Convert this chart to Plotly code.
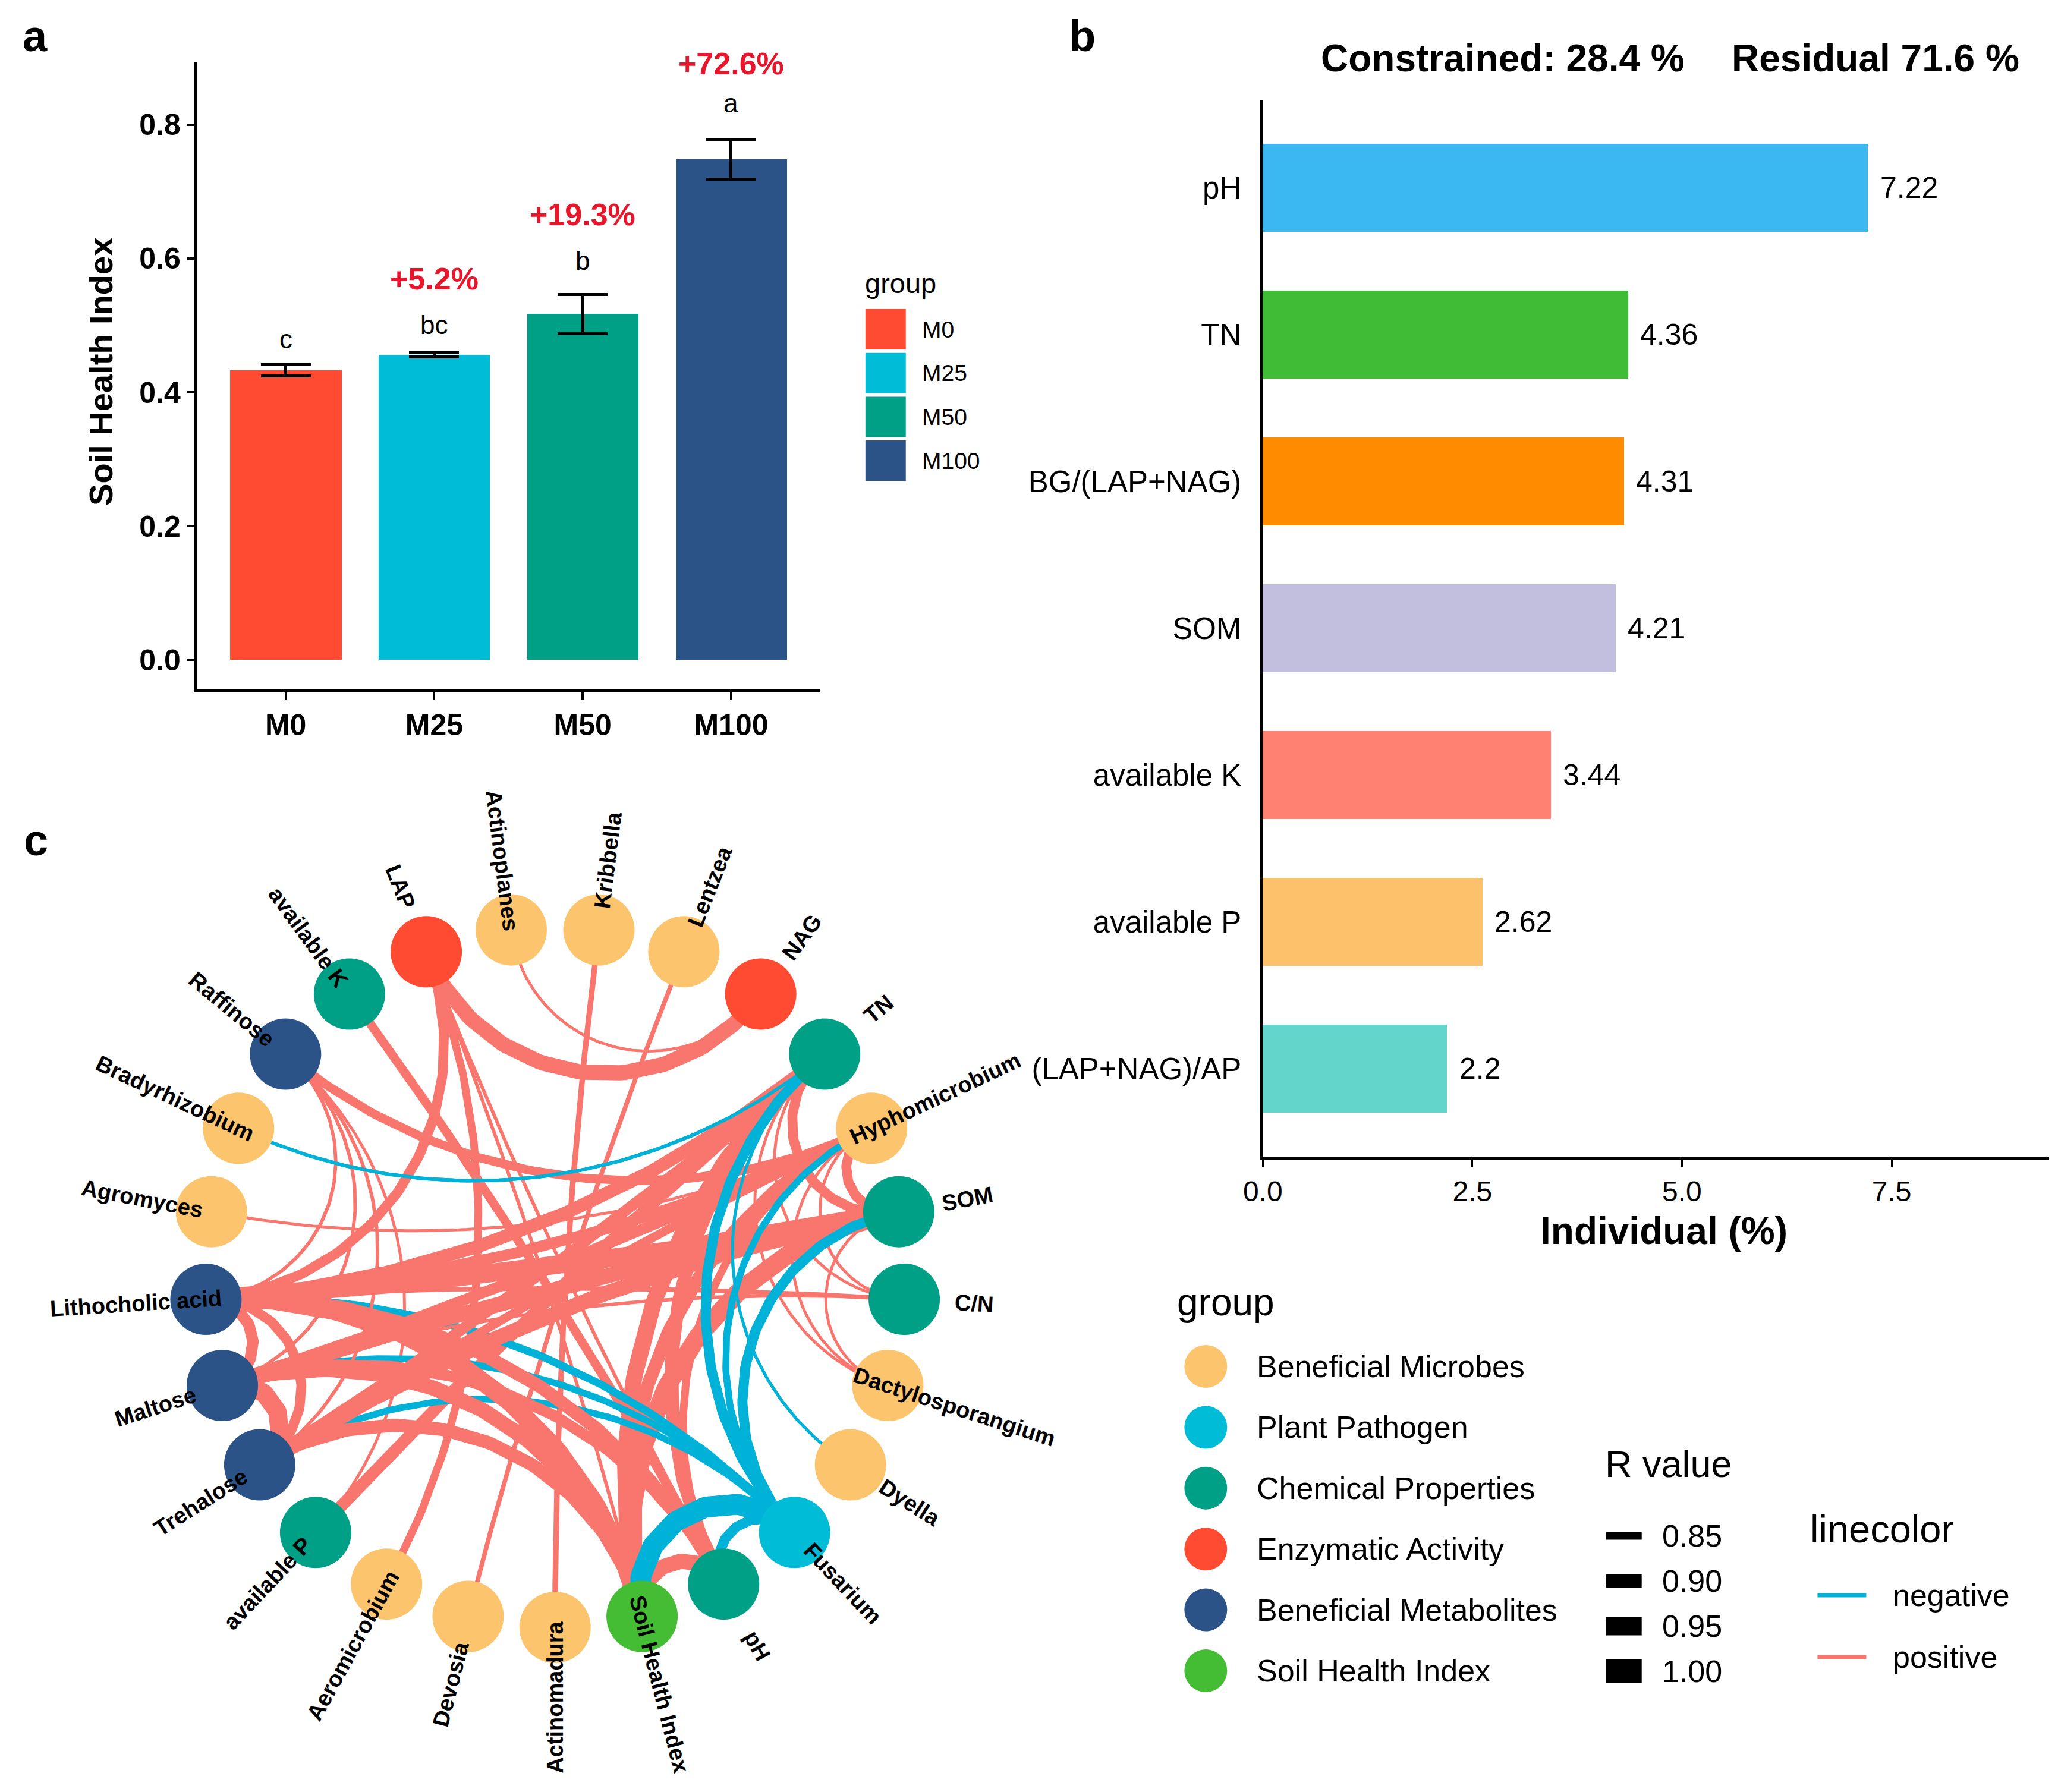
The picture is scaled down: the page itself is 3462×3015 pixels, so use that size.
import numpy as np
import plotly.graph_objects as go

W, H = 3462, 3015
FONT = "Liberation Sans, Arial, Helvetica, sans-serif"

# ---------------- panel a data ----------------
a_groups = ["M0", "M25", "M50", "M100"]
a_mean = [0.433, 0.456, 0.517, 0.748]
a_err = [0.008, 0.003, 0.029, 0.029]
a_letters = ["c", "bc", "b", "a"]
a_letter_y = [0.480, 0.501, 0.597, 0.832]
a_pct = ["", "+5.2%", "+19.3%", "+72.6%"]
a_pct_y = [0.0, 0.570, 0.666, 0.891]
a_colors = ["#FF4B31", "#00BCD6", "#00A087", "#2C5388"]
a_yticks = [0.0, 0.2, 0.4, 0.6, 0.8]

# ---------------- panel b data ----------------
b_vars = ["pH", "TN", "BG/(LAP+NAG)", "SOM", "available K", "available P", "(LAP+NAG)/AP"]
b_vals = [7.22, 4.36, 4.31, 4.21, 3.44, 2.62, 2.2]
b_colors = ["#3BB8EF", "#41BC37", "#FF8C00", "#C2BEDD", "#FF8172", "#FDC06B", "#64D5CB"]
b_xticks = [0.0, 2.5, 5.0, 7.5]
b_title_left = "Constrained: 28.4 %"
b_title_right = "Residual 71.6 %"

# ---------------- panel c data ----------------
node_names = ["Kribbella", "Lentzea", "NAG", "TN", "Hyphomicrobium", "SOM", "C/N",
              "Dactylosporangium", "Dyella", "Fusarium", "pH", "Soil Health Index",
              "Actinomadura", "Devosia", "Aeromicrobium", "available P", "Trehalose",
              "Maltose", "Lithocholic acid", "Agromyces", "Bradyrhizobium", "Raffinose",
              "available K", "LAP", "Actinoplanes"]
group_names = ["Beneficial Microbes", "Plant Pathogen", "Chemical Properties",
               "Enzymatic Activity", "Beneficial Metabolites", "Soil Health Index"]
group_colors = ["#FDC46E", "#00BCD6", "#00A087", "#FF4B31", "#2C5388", "#44BC34"]
node_groups = ["Beneficial Microbes", "Beneficial Microbes", "Enzymatic Activity",
               "Chemical Properties", "Beneficial Microbes", "Chemical Properties",
               "Chemical Properties", "Beneficial Microbes", "Beneficial Microbes",
               "Plant Pathogen", "Chemical Properties", "Soil Health Index",
               "Beneficial Microbes", "Beneficial Microbes", "Beneficial Microbes",
               "Chemical Properties", "Beneficial Metabolites", "Beneficial Metabolites",
               "Beneficial Metabolites", "Beneficial Microbes", "Beneficial Microbes",
               "Beneficial Metabolites", "Chemical Properties", "Enzymatic Activity",
               "Beneficial Microbes"]

edges_positive = [
    ("LAP", "NAG", 0.92), ("Actinoplanes", "NAG", 0.805),
    ("Kribbella", "Actinomadura", 0.83), ("Lentzea", "Devosia", 0.82),
    ("LAP", "Lithocholic acid", 0.87), ("LAP", "Aeromicrobium", 0.85),
    ("LAP", "Soil Health Index", 0.81), ("LAP", "pH", 0.81),
    ("available K", "pH", 0.86), ("available P", "TN", 0.89),
    ("Raffinose", "Hyphomicrobium", 0.86), ("Raffinose", "Lithocholic acid", 0.81),
    ("Raffinose", "Maltose", 0.81), ("Raffinose", "Trehalose", 0.81),
    ("Raffinose", "available P", 0.805), ("Agromyces", "Hyphomicrobium", 0.805),
    ("Lithocholic acid", "SOM", 0.95), ("Lithocholic acid", "TN", 0.90),
    ("Lithocholic acid", "Hyphomicrobium", 0.88), ("Lithocholic acid", "Soil Health Index", 0.95),
    ("Lithocholic acid", "pH", 0.90), ("Lithocholic acid", "Maltose", 0.885),
    ("Lithocholic acid", "Trehalose", 0.87), ("Lithocholic acid", "C/N", 0.82),
    ("Maltose", "Trehalose", 0.95), ("Maltose", "SOM", 0.92),
    ("Maltose", "Hyphomicrobium", 0.88), ("Maltose", "Soil Health Index", 0.92),
    ("Maltose", "pH", 0.88), ("Maltose", "C/N", 0.81),
    ("Trehalose", "SOM", 0.92), ("Trehalose", "TN", 0.88),
    ("Trehalose", "Hyphomicrobium", 0.86), ("Trehalose", "Soil Health Index", 0.90),
    ("SOM", "TN", 0.87), ("SOM", "Hyphomicrobium", 0.87),
    ("SOM", "Soil Health Index", 0.95), ("SOM", "Dactylosporangium", 0.805),
    ("TN", "Soil Health Index", 0.93), ("TN", "pH", 0.90),
    ("Hyphomicrobium", "Soil Health Index", 0.90), ("Hyphomicrobium", "pH", 0.85),
    ("Hyphomicrobium", "Dactylosporangium", 0.805), ("C/N", "Hyphomicrobium", 0.805),
    ("C/N", "TN", 0.805), ("Dactylosporangium", "TN", 0.805),
    ("Soil Health Index", "pH", 0.92),
]
edges_negative = [
    ("Fusarium", "Soil Health Index", 0.97), ("Fusarium", "pH", 0.87),
    ("Fusarium", "TN", 0.87), ("Fusarium", "Hyphomicrobium", 0.84),
    ("Fusarium", "SOM", 0.87), ("Fusarium", "Lithocholic acid", 0.85),
    ("Fusarium", "Maltose", 0.84), ("Fusarium", "Trehalose", 0.84),
    ("Dyella", "TN", 0.805), ("Bradyrhizobium", "TN", 0.81),
]
r_legend = [0.85, 0.90, 0.95, 1.00]
POS_COLOR = "#F8766D"
NEG_COLOR = "#00B2D8"

# ---------------- geometry / style ----------------
# page-placement correction (rendered page is offset/scaled slightly)
OX, SX, OY = 31.0, 0.9913, 8.0


def dx(x):  # reference pixel x -> paper fraction
    return (x - OX) / SX / W


def dy(y):  # reference pixel y -> paper fraction (from bottom)
    return 1 - (y - OY) / H


CX, CY, RAD = 924.5, 2149.0, 589.0     # circle layout (reference pixels)
RLAB = 707.0
NODE_SIZE = 120


def edge_width(r):
    return 4 + (r - 0.8) * 180


def node_unit(k):
    ang = np.radians(7.2 + 14.4 * k)
    return np.array([np.sin(ang), -np.cos(ang)])


def arc_points(k1, k2, n=80):
    u1, u2 = node_unit(k1), node_unit(k2)
    cos_t = np.clip(np.dot(u1, u2), -1, 1)
    th = np.arccos(cos_t)
    if th > np.radians(179.0):
        t = np.linspace(0, 1, n)
        pts = np.outer(1 - t, u1) + np.outer(t, u2)
    else:
        m = (u1 + u2) / np.linalg.norm(u1 + u2)
        O = m / np.cos(th / 2)
        r = np.tan(th / 2)
        p1 = np.arctan2(u1[1] - O[1], u1[0] - O[0])
        p2 = np.arctan2(u2[1] - O[1], u2[0] - O[0])
        d = (p2 - p1 + np.pi) % (2 * np.pi) - np.pi
        t = np.linspace(0, 1, n)
        ph = p1 + d * t
        pts = np.column_stack([O[0] + r * np.cos(ph), O[1] + r * np.sin(ph)])
    return CX + RAD * pts[:, 0], CY + RAD * pts[:, 1]


fig = go.Figure()

# ---------------- panel a ----------------
fig.add_trace(go.Bar(
    x=list(range(len(a_groups))), y=a_mean, width=0.75,
    marker=dict(color=a_colors, line=dict(width=0)),
    error_y=dict(type="data", array=a_err, thickness=5, width=42, color="black"),
    xaxis="x", yaxis="y", showlegend=False, hoverinfo="skip"))

annotations = []
for i, (lt, ly) in enumerate(zip(a_letters, a_letter_y)):
    annotations.append(dict(x=i, y=ly, xref="x", yref="y", text=lt, showarrow=False,
                            font=dict(family=FONT, size=44, color="black"),
                            xanchor="center", yanchor="middle"))
for i, (pt, py) in enumerate(zip(a_pct, a_pct_y)):
    if pt:
        annotations.append(dict(x=i, y=py, xref="x", yref="y", text="<b>%s</b>" % pt,
                                showarrow=False,
                                font=dict(family=FONT, size=52, color="#E8152B"),
                                xanchor="center", yanchor="middle"))

# ---------------- panel b ----------------
b_pos = list(range(len(b_vars), 0, -1))
fig.add_trace(go.Bar(
    x=b_vals, y=b_pos, orientation="h", width=0.6,
    marker=dict(color=b_colors, line=dict(width=0)),
    xaxis="x2", yaxis="y2", showlegend=False, hoverinfo="skip"))
for v, p in zip(b_vals, b_pos):
    annotations.append(dict(x=v, y=p, xref="x2", yref="y2", text=str(v), showarrow=False,
                            xanchor="left", yanchor="middle", xshift=18,
                            font=dict(family=FONT, size=50, color="black")))

# ---------------- panel c : edges ----------------
idx = {n: i for i, n in enumerate(node_names)}
left_hubs = {"Lithocholic acid", "Maltose", "Trehalose"}
pos_sorted = sorted(edges_positive, key=lambda e: e[2])
layers = [
    ([e for e in pos_sorted if not ({e[0], e[1]} & left_hubs)], POS_COLOR),
    (sorted(edges_negative, key=lambda e: e[2]), NEG_COLOR),
    ([e for e in pos_sorted if ({e[0], e[1]} & left_hubs)], POS_COLOR),
]
for edges, col in layers:
    for a, b, r in edges:
        ex, ey = arc_points(idx[a], idx[b])
        fig.add_trace(go.Scatter(x=ex, y=ey, mode="lines",
                                 line=dict(color=col, width=edge_width(r)),
                                 xaxis="x3", yaxis="y3", showlegend=False,
                                 hoverinfo="skip"))
# Fusarium fan drawn on top near the pathogen node
for a, b, r in sorted(edges_negative, key=lambda e: e[2]):
    if {a, b} & left_hubs:
        continue
    ex, ey = arc_points(idx[a], idx[b])
    fig.add_trace(go.Scatter(x=ex, y=ey, mode="lines",
                             line=dict(color=NEG_COLOR, width=edge_width(r)),
                             xaxis="x3", yaxis="y3", showlegend=False, hoverinfo="skip"))

# nodes
gcol = dict(zip(group_names, group_colors))
nx = [CX + RAD * node_unit(k)[0] for k in range(len(node_names))]
ny = [CY + RAD * node_unit(k)[1] for k in range(len(node_names))]
fig.add_trace(go.Scatter(x=nx, y=ny, mode="markers",
                         marker=dict(size=NODE_SIZE, color=[gcol[g] for g in node_groups],
                                     line=dict(width=0), opacity=1),
                         xaxis="x3", yaxis="y3", showlegend=False, hoverinfo="skip"))

# node labels
for k, name in enumerate(node_names):
    ang = 7.2 + 14.4 * k
    u = node_unit(k)
    rot = ang - 90 if ang < 179 else ang - 270
    annotations.append(dict(x=CX + RLAB * u[0], y=CY + RLAB * u[1], xref="x3", yref="y3",
                            text="<b>%s</b>" % name, showarrow=False, textangle=rot,
                            xanchor="center", yanchor="middle",
                            font=dict(family=FONT, size=38, color="black")))

# ---------------- manual legends & labels (overlay pixel axis) ----------------
shapes = []


def txt(x, y, s, size, bold=False, xanchor="left", color="black", angle=0):
    annotations.append(dict(x=x, y=y, xref="x3", yref="y3",
                            text=("<b>%s</b>" % s) if bold else s, showarrow=False,
                            xanchor=xanchor, yanchor="middle", textangle=angle,
                            font=dict(family=FONT, size=size, color=color)))


# panel letters
txt(49, 60, "a", 74, bold=True, xanchor="center")
txt(1812, 60, "b", 74, bold=True, xanchor="center")
txt(51, 1413, "c", 74, bold=True, xanchor="center")

# panel a axis title + legend
txt(159, 625, "Soil Health Index", 56, bold=True, xanchor="center", angle=-90)
txt(1444, 476, "group", 47)
for i, (g, c) in enumerate(zip(a_groups, a_colors)):
    top = 520 + 73.7 * i
    shapes.append(dict(type="rect", xref="x3", yref="y3", x0=1447, x1=1515,
                       y0=top, y1=top + 68, fillcolor=c, line=dict(width=0)))
    txt(1540, top + 34, g, 39)

# panel b title + axis title
txt(2520, 98, b_title_left, 64, bold=True, xanchor="center")
txt(3148, 98, b_title_right, 64, bold=True, xanchor="center")
txt(2791, 2071, "Individual (%)", 64, bold=True, xanchor="center")

# group legend (panel c)
txt(1970, 2191, "group", 64)
gy0 = 2299
fig.add_trace(go.Scatter(x=[2020] * len(group_names),
                         y=[gy0 + 102.4 * i for i in range(len(group_names))],
                         mode="markers", marker=dict(size=72, color=group_colors, line=dict(width=0)),
                         xaxis="x3", yaxis="y3", showlegend=False, hoverinfo="skip"))
for i, g in enumerate(group_names):
    txt(2104, gy0 + 102.4 * i, g, 52)

# R value legend
txt(2690, 2463, "R value", 63)
for i, r in enumerate(r_legend):
    cy = 2584 + 76 * i
    w = edge_width(r)
    shapes.append(dict(type="rect", xref="x3", yref="y3", x0=2694, x1=2754,
                       y0=cy - w / 2, y1=cy + w / 2, fillcolor="black", line=dict(width=0)))
    txt(2786, cy, "%.2f" % r, 52)

# linecolor legend
txt(3036, 2572, "linecolor", 65)
for i, (lab, col) in enumerate((("negative", NEG_COLOR), ("positive", POS_COLOR))):
    yy = 2684 + 104 * i
    shapes.append(dict(type="line", xref="x3", yref="y3", x0=3050, x1=3132, y0=yy, y1=yy,
                       line=dict(color=col, width=7)))
    txt(3175, yy, lab, 52)

# ---------------- layout ----------------
fig.update_layout(
    width=W, height=H, margin=dict(l=0, r=0, t=0, b=0),
    paper_bgcolor="white", plot_bgcolor="rgba(0,0,0,0)",
    font=dict(family=FONT, color="black"),
    bargap=0, showlegend=False,
    xaxis=dict(domain=[dx(321), dx(1371)], anchor="y", range=[-0.6, 3.6],
               tickvals=list(range(len(a_groups))), ticktext=a_groups,
               showline=True, linecolor="black", linewidth=5, ticks="outside",
               ticklen=12, tickwidth=4, tickcolor="black", showgrid=False, zeroline=False,
               tickfont=dict(family=FONT, size=50, color="black", weight="bold")),
    yaxis=dict(domain=[dy(1160), dy(104)], anchor="x", range=[-0.044, 0.894],
               tickvals=a_yticks, ticktext=["%.1f" % t for t in a_yticks],
               showline=True, linecolor="black", linewidth=5, ticks="outside",
               ticklen=12, tickwidth=4, tickcolor="black", showgrid=False, zeroline=False,
               tickfont=dict(family=FONT, size=50, color="black", weight="bold")),
    xaxis2=dict(domain=[dx(2116), min(1.0, dx(3440))], anchor="y2", range=[0, 9.38],
                tickvals=b_xticks, ticktext=["%.1f" % t for t in b_xticks],
                showline=True, linecolor="black", linewidth=5, ticks="outside",
                ticklen=12, tickwidth=3, tickcolor="black", showgrid=False, zeroline=False,
                tickfont=dict(family=FONT, size=48, color="black")),
    yaxis2=dict(domain=[dy(1946), dy(168)], anchor="x2", range=[0.4, 7.6],
                tickvals=b_pos, ticktext=b_vars, ticks="", ticklabelstandoff=22,
                showline=True, linecolor="black", linewidth=3.5, showgrid=False,
                zeroline=False, tickfont=dict(family=FONT, size=51, color="black")),
    xaxis3=dict(domain=[0, 1], anchor="y3", range=[OX, OX + SX * W], visible=False,
                fixedrange=True),
    yaxis3=dict(domain=[0, 1], anchor="x3", range=[H + OY, OY], visible=False,
                fixedrange=True),
    annotations=annotations, shapes=shapes,
)

fig.write_html("out.html")
